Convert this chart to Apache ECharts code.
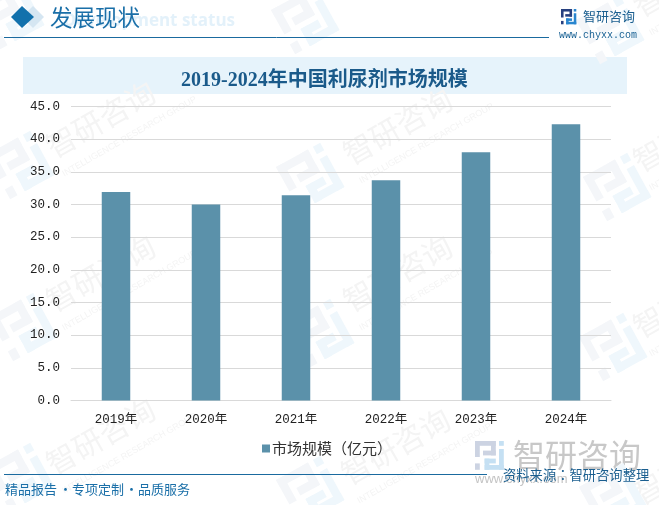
<!DOCTYPE html>
<html>
<head>
<meta charset="utf-8">
<style>html,body{margin:0;padding:0;background:#fff}#main{width:659px;height:505px}</style>
<script src="https://cdn.jsdelivr.net/npm/echarts@6/dist/echarts.min.js"></script>
</head>
<body>
<div id="main"></div>
<script>
// 数据
var categories = ['2019年', '2020年', '2021年', '2022年', '2023年', '2024年'];
var marketSize = [31.9, 30.0, 31.4, 33.7, 38.0, 42.3];
var seriesName = '市场规模（亿元）';
var chartTitle = '2019-2024年中国利尿剂市场规模';

var cjk = '"Noto Sans CJK SC"';
var blue = '#1a6a9f';

// 智研 logo，由几个方块拼成
function logo(x, y, s, c1, c2, rotation, z) {
    var blocks = [
        [0, 0, 13, 3, c1], [0, 0, 3, 10, c1], [10, 0, 3, 9, c1], [5, 6, 8, 3, c1], [0, 14, 3, 4, c1],
        [15, 0, 3, 3, c2], [15, 5, 3, 13, c2], [6, 15, 12, 3, c2], [6, 11, 3, 7, c2], [6, 11, 7, 3, c2]
    ];
    return {
        type: 'group', x: x, y: y, rotation: rotation || 0, z: z, silent: true,
        children: blocks.map(function (b) {
            return { type: 'rect', shape: { x: b[0] * s, y: b[1] * s, width: b[2] * s, height: b[3] * s }, style: { fill: b[4] } };
        })
    };
}

// 水印
function watermark(x, y) {
    return {
        type: 'group', x: x, y: y, rotation: 0.52, z: -10, silent: true,
        children: [
            { type: 'text', x: 0, y: 0, style: { text: '智研咨询', font: '30px ' + cjk, fill: '#f4f4f4', letterSpacing: 5 } },
            { type: 'text', x: 0, y: 40, style: { text: 'INTELLIGENCE RESEARCH GROUP', font: '9px "Liberation Sans"', fill: '#f4f4f4', letterSpacing: 1 } }
        ]
    };
}

var graphics = [];
[[41, 136], [41, 290], [41, 453], [338, 143], [338, 290], [336, 463], [628, 150], [628, 316], [628, 483], [628, -5]].forEach(function (p) {
    graphics.push(watermark(p[0], p[1]));
});
[[20, 165], [310, 177], [617, 187], [23, 327], [320, 333], [613, 347], [20, 477], [310, 490], [613, 497], [10, 15], [305, 20], [610, 30]].forEach(function (c) {
    graphics.push(logo(c[0] - 34, c[1] - 10, 2.8, '#f4f6f9', '#eff7fc', 0.5, -11));
});

graphics = graphics.concat([
    // 页眉
    { type: 'polygon', z: 1, shape: { points: [[33, 6], [44, 17], [33, 28], [22, 17]] }, style: { fill: '#d5e6f2' } },
    { type: 'polygon', z: 2, shape: { points: [[22, 6], [34, 17], [22, 28], [11, 17]] }, style: { fill: '#1271ac' } },
    { type: 'text', z: 1, x: 235, y: 21, style: { text: 'Development status', font: 'bold 17px "Open Sans"', fill: '#e3f1fa', align: 'right', verticalAlign: 'middle' } },
    { type: 'text', z: 2, x: 50, y: 17, style: { text: '发展现状', font: '22.5px ' + cjk, fill: '#1a6fa8', verticalAlign: 'middle' } },
    { type: 'line', z: 2, shape: { x1: 4, y1: 37.5, x2: 549, y2: 37.5 }, style: { stroke: blue, lineWidth: 1 } },
    logo(561, 9, 0.85, '#27407f', '#2a86cf', 0, 2),
    { type: 'text', z: 2, x: 583, y: 16, style: { text: '智研咨询', font: '13px ' + cjk, fill: '#1a5e8f', verticalAlign: 'middle', letterSpacing: 0.5 } },
    { type: 'text', z: 2, x: 559, y: 35, style: { text: 'www.chyxx.com', font: '10px "Liberation Mono"', fill: '#1a6294', verticalAlign: 'middle' } },
    // 标题背景
    { type: 'rect', z: -1, shape: { x: 23, y: 57, width: 604, height: 37 }, style: { fill: '#e6f3fb' } },
    // 右下角大 logo
    logo(475, 441, 1.6, '#ccd3e2', '#c5e0f3', 0, -5),
    { type: 'text', z: -5, x: 513, y: 455, style: { text: '智研咨询', font: '32px ' + cjk, fill: '#c8c8c8', verticalAlign: 'middle' } },
    { type: 'text', z: -5, x: 475, y: 479, style: { text: 'www.chyxx.com', font: '13px "Liberation Sans"', fill: '#c4c4c4', verticalAlign: 'middle', letterSpacing: 6 } },
    // 页脚
    { type: 'line', z: 2, shape: { x1: 4, y1: 474.5, x2: 487, y2: 474.5 }, style: { stroke: blue, lineWidth: 1 } },
    { type: 'text', z: 2, x: 503, y: 475, style: { text: '资料来源：智研咨询整理', font: '13.3px "Noto Sans CJK TC"', fill: '#1a5e8f', verticalAlign: 'middle' } }
]);

// 页脚三段文字，中间的点单独放
[[5, '精品报告'], [59, '·'], [72, '专项定制'], [125, '·'], [138, '品质服务']].forEach(function (t) {
    graphics.push({ type: 'text', z: 2, x: t[0], y: 489, style: { text: t[1], font: '13px ' + cjk, fill: '#1a6fa8', verticalAlign: 'middle' } });
});

var myChart = echarts.init(document.getElementById('main'));

var option = {
    backgroundColor: '#fff',
    animation: false,
    title: {
        show: true,
        text: chartTitle,
        left: 176,
        top: 66,
        textStyle: { fontFamily: '"Liberation Serif",' + cjk, fontSize: 20, fontWeight: 'bold', color: '#1a5a8a' }
    },
    legend: {
        data: [seriesName],
        left: 262,
        top: 441,
        padding: 0,
        itemWidth: 8,
        itemHeight: 8,
        itemGap: 0,
        icon: 'rect',
        textStyle: { fontFamily: cjk, fontSize: 15, color: '#333', padding: [0, 0, 0, -3] }
    },
    grid: { left: 71, right: 48, top: 106.5, bottom: 104.5, containLabel: false },
    xAxis: {
        type: 'category',
        data: categories,
        axisLine: { lineStyle: { color: '#d9d9d9' } },
        axisTick: { show: false },
        axisLabel: { color: '#222', fontFamily: '"Liberation Mono",' + cjk, fontSize: 12.5, margin: 13, interval: 0 }
    },
    yAxis: {
        type: 'value',
        min: 0,
        max: 45,
        interval: 5,
        axisLine: { show: false },
        axisTick: { show: false },
        splitLine: { lineStyle: { color: '#d9d9d9' } },
        axisLabel: {
            color: '#222',
            fontFamily: '"Liberation Mono"',
            fontSize: 12.5,
            margin: 11,
            padding: [4, 0, 0, 0],
            formatter: function (v) { return v.toFixed(1); }
        }
    },
    series: [{
        name: seriesName,
        type: 'bar',
        data: marketSize,
        barWidth: 28.5,
        itemStyle: { color: '#5b91aa' }
    }],
    graphic: graphics
};

myChart.setOption(option);
</script>
</body>
</html>
